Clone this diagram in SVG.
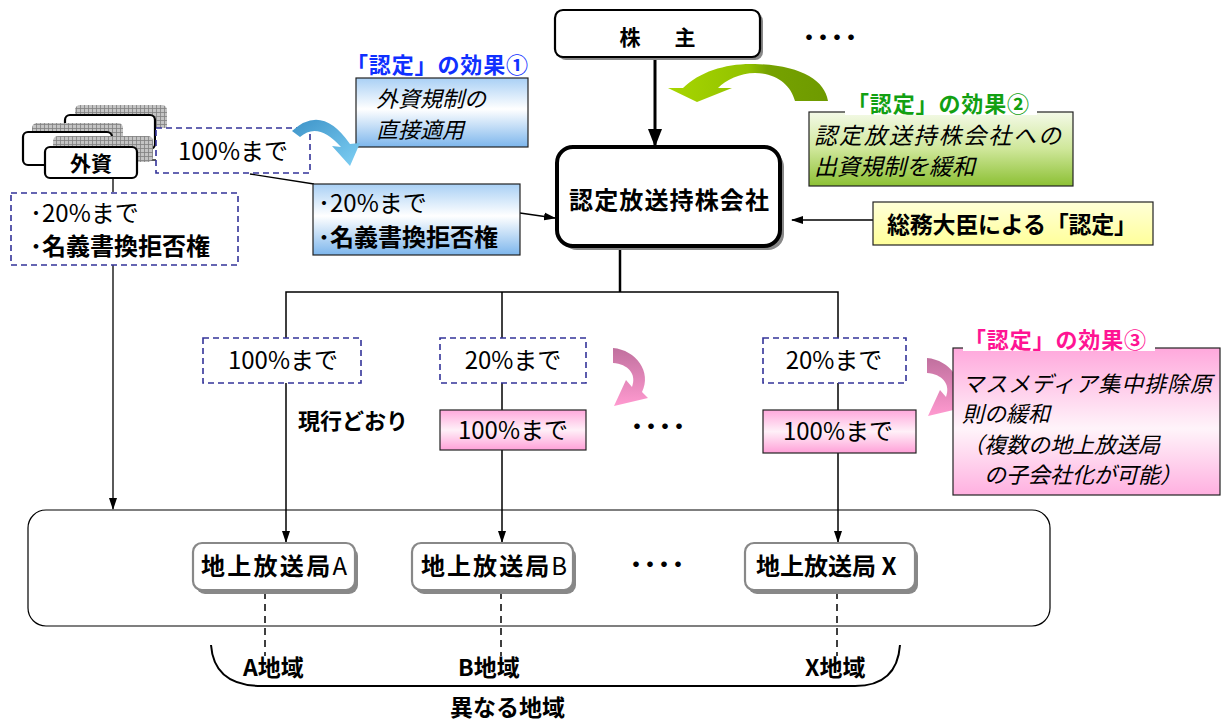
<svg xmlns="http://www.w3.org/2000/svg" width="1224" height="722" viewBox="0 0 1224 722">
<defs>
<style>
text { font-family: "Noto Sans CJK JP", "Noto Sans", sans-serif; fill: #000; }
.b { font-weight: bold; }
.i { font-style: italic; }
.m { text-anchor: middle; }
.dash { fill: #fff; stroke: #333399; stroke-width: 1.6; stroke-dasharray: 6 4; }
.ln { stroke: #000; stroke-width: 1.3; fill: none; }
.lnb { stroke: #000; stroke-width: 3; fill: none; }
.eff { stroke: #222; stroke-width: 1.2; }
.wbox { fill: #fff; stroke: #000; stroke-width: 2.2; }
.st { fill: #fff; stroke: #888; stroke-width: 2.2; }
.sh { fill: #888; }
.t24 { font-size: 24px; }
</style>
<marker id="ah" markerWidth="12" markerHeight="10" refX="11" refY="5" orient="auto" markerUnits="userSpaceOnUse"><path d="M0,1 L12,5 L0,9 Z" fill="#000"/></marker>
<marker id="ahb" markerWidth="18" markerHeight="16" refX="16" refY="8" orient="auto" markerUnits="userSpaceOnUse"><path d="M0,1 L18,8 L0,15 Z" fill="#000"/></marker>
<pattern id="grid" width="4" height="4" patternUnits="userSpaceOnUse"><rect width="4" height="4" fill="#c4c4c4"/><path d="M0,0.5 H4 M0.5,0 V4" stroke="#808080" stroke-width="0.8"/></pattern>
<linearGradient id="gBlue" x1="0" y1="0" x2="0" y2="1"><stop offset="0" stop-color="#a9d0f5"/><stop offset="0.45" stop-color="#ffffff"/><stop offset="1" stop-color="#7db6ec"/></linearGradient>
<linearGradient id="gGreen" x1="0" y1="0" x2="0" y2="1"><stop offset="0" stop-color="#f4fae8"/><stop offset="0.5" stop-color="#cfe79a"/><stop offset="1" stop-color="#8cc034"/></linearGradient>
<linearGradient id="gYel" x1="0" y1="0" x2="0" y2="1"><stop offset="0" stop-color="#ffffd8"/><stop offset="1" stop-color="#ffff9a"/></linearGradient>
<linearGradient id="gPink" x1="0" y1="0" x2="0" y2="1"><stop offset="0" stop-color="#ffa8dc"/><stop offset="0.5" stop-color="#fff0f8"/><stop offset="1" stop-color="#ffa0d8"/></linearGradient>
<linearGradient id="gPinkBig" x1="0" y1="0" x2="0" y2="1"><stop offset="0" stop-color="#ffa8dc"/><stop offset="0.55" stop-color="#fff4fa"/><stop offset="1" stop-color="#ffb0e0"/></linearGradient>
<linearGradient id="aBlue" x1="0" y1="0" x2="1" y2="1"><stop offset="0" stop-color="#3d93c8"/><stop offset="1" stop-color="#7fd0f4"/></linearGradient>
<linearGradient id="aGreen" gradientUnits="userSpaceOnUse" x1="668" y1="0" x2="828" y2="0"><stop offset="0" stop-color="#a8d600"/><stop offset="0.5" stop-color="#92c200"/><stop offset="0.62" stop-color="#76a200"/><stop offset="1" stop-color="#6e9a00"/></linearGradient>
<linearGradient id="aPink" x1="0" y1="0" x2="0" y2="1"><stop offset="0" stop-color="#c0709e"/><stop offset="1" stop-color="#ff9ad0"/></linearGradient>
</defs>

<rect width="1224" height="722" fill="#fff"/>

<!-- connectors -->
<g id="connectors">
  <line class="ln" x1="113" y1="178" x2="113" y2="192"/>
  <line class="ln" x1="113" y1="265" x2="113" y2="509" marker-end="url(#ah)"/>
  <line class="ln" x1="138" y1="160" x2="156" y2="160"/>
  <line class="ln" x1="250" y1="174" x2="314" y2="184"/>
  <line class="ln" x1="520" y1="213" x2="555" y2="218" marker-end="url(#ah)"/>
  <line class="lnb" x1="655" y1="58" x2="655" y2="145" marker-end="url(#ahb)"/>
  <line class="ln" x1="873" y1="220" x2="792" y2="220" marker-end="url(#ah)"/>
  <polyline class="lnb" points="620,248 620,292" style="stroke-width:2.5"/>
  <polyline class="ln" points="286,338 286,292 838,292 838,338" style="stroke-width:1.5"/>
  <line class="ln" x1="502" y1="292" x2="502" y2="338" style="stroke-width:1.5"/>
  <line class="ln" x1="286" y1="383" x2="286" y2="542" style="stroke-width:1.5" marker-end="url(#ah)"/>
  <line class="ln" x1="502" y1="383" x2="502" y2="410" style="stroke-width:1.5"/>
  <line class="ln" x1="502" y1="450" x2="502" y2="542" style="stroke-width:1.5" marker-end="url(#ah)"/>
  <line class="ln" x1="838" y1="383" x2="838" y2="410" style="stroke-width:1.5"/>
  <line class="ln" x1="838" y1="453" x2="838" y2="542" style="stroke-width:1.5" marker-end="url(#ah)"/>
  <line class="ln" x1="265" y1="592" x2="265" y2="656" style="stroke-dasharray:7 5;stroke-width:1.5"/>
  <line class="ln" x1="501" y1="592" x2="501" y2="656" style="stroke-dasharray:7 5;stroke-width:1.5"/>
  <line class="ln" x1="837" y1="592" x2="837" y2="656" style="stroke-dasharray:7 5;stroke-width:1.5"/>
</g>

<!-- region frame -->
<g id="region">
  <rect x="28" y="510" width="1022" height="116" rx="18" fill="none" stroke="#000" stroke-width="1.2"/>
</g>

<!-- foreign capital stack -->
<g id="gaishi">
  <rect x="75" y="105" width="92" height="36" rx="5" fill="url(#grid)"/>
  <rect x="65" y="115" width="90" height="34" rx="5" class="wbox"/>
  <rect x="32" y="123" width="91" height="30" rx="5" fill="url(#grid)"/>
  <rect x="23" y="132" width="89" height="33" rx="5" class="wbox"/>
  <rect x="53" y="136" width="100" height="26" rx="5" fill="url(#grid)"/>
  <rect x="45" y="147" width="92" height="31" rx="5" class="wbox"/>
  <text x="91" y="171" class="b m" font-size="21">外資</text>
</g>

<g id="gaishi100">
  <rect x="156" y="128" width="154" height="45" class="dash"/>
  <text x="233" y="160" class="m t24">100%まで</text>
</g>

<g id="gaishi20">
  <rect x="11" y="193" width="227" height="72" class="dash"/>
  <text x="30" y="222" class="t24">･20%まで</text>
  <text x="30" y="255" class="t24 b">･名義書換拒否権</text>
</g>

<!-- effect 1 -->
<g id="effect1">
  <text x="346" y="73" class="b" font-size="22" textLength="182" style="fill:#1030ff">「認定」の効果①</text>
  <rect x="356" y="78" width="172" height="69" fill="url(#gBlue)" class="eff"/>
  <text x="376" y="107" class="i" font-size="22">外資規制の</text>
  <text x="376" y="138" class="i" font-size="22">直接適用</text>
  <path d="M292,131 Q322,103 350,144 L360,143 L350,166 L332,146 L341,147 Q318,121 300,137 Z" fill="url(#aBlue)"/>
</g>

<g id="blue20">
  <rect x="313" y="184" width="207" height="71" fill="url(#gBlue)" class="eff"/>
  <text x="318" y="212" class="t24">･20%まで</text>
  <text x="318" y="246" class="t24 b">･名義書換拒否権</text>
</g>

<!-- shareholders -->
<g id="kabunushi">
  <rect x="558" y="13" width="205" height="47" rx="8" class="sh"/>
  <rect x="555" y="10" width="205" height="47" rx="8" class="wbox"/>
  <text x="630" y="45" class="b m" font-size="21">株</text>
  <text x="685" y="45" class="b m" font-size="21">主</text>
</g>
<text x="798" y="45" class="b" font-size="22" letter-spacing="-8">・・・・</text>

<!-- effect 2 -->
<g id="effect2">
  <path d="M683,88 C700,71 728,63 755,64 C800,65 825,80 828,101 L795,101 C791,85 776,73 755,73 C740,73 726,80 718,88 L732,88 L697,102 L668,88 Z" fill="url(#aGreen)"/>
  <rect x="809" y="112" width="264" height="74" fill="url(#gGreen)" class="eff"/>
  <rect x="845" y="92" width="192" height="23" fill="#fff"/>
  <text x="847" y="112" class="b" font-size="22" textLength="182" style="fill:#12a012">「認定」の効果②</text>
  <text x="814" y="144" class="i" font-size="23" textLength="247">認定放送持株会社への</text>
  <text x="814" y="175" class="i" font-size="23">出資規制を緩和</text>
</g>

<!-- holding company -->
<g id="holding">
  <rect x="561" y="151" width="223" height="99" rx="16" class="sh"/>
  <rect x="557" y="147" width="223" height="99" rx="16" fill="#fff" stroke="#000" stroke-width="4"/>
  <text x="669" y="209" class="b m" font-size="24" textLength="200">認定放送持株会社</text>
</g>

<g id="minister">
  <rect x="873" y="202" width="280" height="43" fill="url(#gYel)" class="eff"/>
  <text x="887" y="233" class="b" font-size="23" textLength="250">総務大臣による「認定」</text>
</g>

<!-- branch A -->
<g id="a100">
  <rect x="203" y="338" width="158" height="45" class="dash"/>
  <text x="283" y="369" class="m t24">100%まで</text>
</g>
<text x="298" y="429" class="b" font-size="22">現行どおり</text>

<!-- branch B -->
<g id="b20">
  <rect x="440" y="338" width="146" height="45" class="dash"/>
  <text x="513" y="369" class="m t24">20%まで</text>
</g>
<g id="b100">
  <rect x="440" y="410" width="146" height="40" fill="url(#gPink)" class="eff"/>
  <text x="513" y="439" class="m t24">100%まで</text>
</g>
<path d="M613,348 C636,350 652,372 642,392 L648,398 L614,406 L626,380 L632,387 C637,374 628,364 613,363 Z" fill="url(#aPink)"/>
<text x="626" y="434" class="b" font-size="22" letter-spacing="-8">・・・・</text>

<!-- branch X -->
<g id="x20">
  <rect x="763" y="338" width="143" height="45" class="dash"/>
  <text x="834" y="369" class="m t24">20%まで</text>
</g>
<g id="x100">
  <rect x="763" y="410" width="153" height="43" fill="url(#gPink)" class="eff"/>
  <text x="838" y="440" class="m t24">100%まで</text>
</g>
<path d="M613,348 C636,350 652,372 642,392 L648,398 L614,406 L626,380 L632,387 C637,374 628,364 613,363 Z" fill="url(#aPink)" transform="translate(314,10)"/>

<!-- effect 3 -->
<g id="effect3">
  <rect x="953" y="348" width="267" height="147" fill="url(#gPinkBig)" class="eff"/>
  <rect x="963" y="328" width="192" height="23" fill="#fff"/>
  <text x="964" y="348" class="b" font-size="22" textLength="182" style="fill:#ff1493">「認定」の効果③</text>
  <text x="962" y="392" class="i" font-size="22" textLength="250">マスメディア集中排除原</text>
  <text x="962" y="422" class="i" font-size="22">則の緩和</text>
  <text x="962" y="453" class="i" font-size="22">（複数の地上放送局</text>
  <text x="962" y="483" class="i" font-size="22">　の子会社化が可能）</text>
</g>

<!-- stations -->
<g id="stationA">
  <rect x="196" y="547" width="162" height="47" rx="9" class="sh"/>
  <rect x="193" y="543" width="162" height="47" rx="9" class="st"/>
  <text x="201" y="575" font-size="24" textLength="146"><tspan class="b">地上放送局</tspan>A</text>
</g>
<g id="stationB">
  <rect x="415" y="547" width="161" height="47" rx="9" class="sh"/>
  <rect x="412" y="543" width="161" height="47" rx="9" class="st"/>
  <text x="421" y="575" font-size="24" textLength="146"><tspan class="b">地上放送局</tspan>B</text>
</g>
<text x="625" y="572" class="b" font-size="22" letter-spacing="-8">・・・・</text>
<g id="stationX">
  <rect x="748" y="547" width="170" height="47" rx="9" class="sh"/>
  <rect x="745" y="543" width="170" height="47" rx="9" class="st"/>
  <text x="756" y="575" class="b" font-size="24">地上放送局 X</text>
</g>

<!-- regions -->
<g id="regions">
  <path d="M211,645 Q214,686 262,686 L855,686 Q897,686 900,645" fill="none" stroke="#000" stroke-width="2"/>
  <text x="243" y="676" class="b" font-size="23">A地域</text>
  <text x="458" y="676" class="b" font-size="23">B地域</text>
  <text x="805" y="676" class="b" font-size="23">X地域</text>
  <text x="450" y="716" class="b" font-size="23">異なる地域</text>
</g>
</svg>
